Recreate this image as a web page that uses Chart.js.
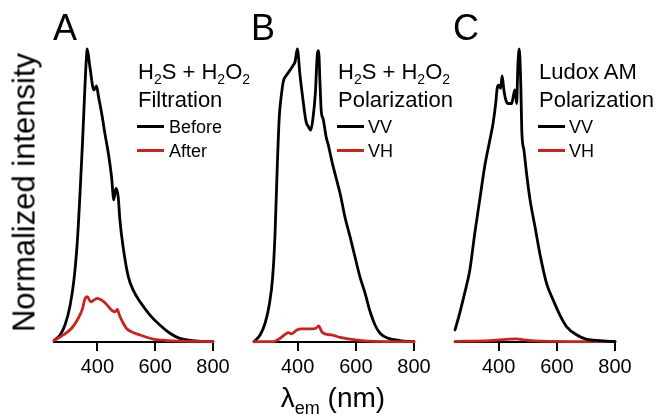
<!DOCTYPE html>
<html><head><meta charset="utf-8">
<script src="https://cdn.jsdelivr.net/npm/chart.js@4"></script>
<style>
html,body{margin:0;padding:0;background:#fff;}
#wrap{position:relative;width:660px;height:420px;overflow:hidden;font-family:"Liberation Sans",Arial,sans-serif;color:#000;}
canvas{position:absolute;top:0;}
.t{position:absolute;white-space:nowrap;}
.head{font-size:22px;line-height:22px;}
.ent{font-size:18px;line-height:18px;}
.sb{font-size:14px;position:relative;top:5px;}
.ln{position:absolute;height:3px;width:27px;}
.letter{font-size:36px;line-height:36px;}
</style></head><body>
<div id="wrap">
<canvas id="cA" width="209" height="382" style="left:29px;width:209px;height:382px"></canvas>
<canvas id="cB" width="210" height="382" style="left:229px;width:210px;height:382px"></canvas>
<canvas id="cC" width="210" height="382" style="left:430px;width:210px;height:382px"></canvas>

<div class="t letter" style="left:53px;top:9.5px">A</div>
<div class="t letter" style="left:251px;top:9.5px">B</div>
<div class="t letter" style="left:453px;top:9.5px">C</div>

<div class="t head" style="left:138px;top:61.4px">H<span class="sb">2</span>S + H<span class="sb">2</span>O<span class="sb">2</span></div>
<div class="t head" style="left:138px;top:89.4px">Filtration</div>
<div class="ln" style="left:137px;top:125.2px;background:#000"></div>
<div class="t ent" style="left:169px;top:118.1px">Before</div>
<div class="ln" style="left:137px;top:148.5px;background:#d0201e"></div>
<div class="t ent" style="left:169px;top:141.5px">After</div>

<div class="t head" style="left:338px;top:61.4px">H<span class="sb">2</span>S + H<span class="sb">2</span>O<span class="sb">2</span></div>
<div class="t head" style="left:338px;top:89.4px">Polarization</div>
<div class="ln" style="left:337px;top:125.2px;background:#000"></div>
<div class="t ent" style="left:368px;top:118.1px">VV</div>
<div class="ln" style="left:337px;top:148.5px;background:#d0201e"></div>
<div class="t ent" style="left:368px;top:141.5px">VH</div>

<div class="t head" style="left:539px;top:61.4px">Ludox AM</div>
<div class="t head" style="left:539px;top:89.4px">Polarization</div>
<div class="ln" style="left:538px;top:125.2px;background:#000"></div>
<div class="t ent" style="left:569px;top:118.1px">VV</div>
<div class="ln" style="left:538px;top:148.5px;background:#d0201e"></div>
<div class="t ent" style="left:569px;top:141.5px">VH</div>

<div class="t" style="left:-125.7px;top:177px;width:300px;height:31px;line-height:31px;font-size:31px;text-align:center;transform:rotate(-90deg)">Normalized intensity</div>
<div class="t" style="left:233px;top:384.3px;width:200px;font-size:28px;line-height:28px;text-align:center">λ<span style="font-size:18px;position:relative;top:7px">em</span> (nm)</div>
</div>
<script>
// x tick labels (nm)
const tickValues = [400, 600, 800];

// Panel A: H2S + H2O2, filtration
const wlABefore = [250,271,288,305,319,331,340,349,356,361,365,374,388,397,404,415,426,438,449,457,464,472,478,489,507,524,547,582,616,651,685,731,800];
const intABefore = [0.005,0.024,0.058,0.121,0.212,0.348,0.507,0.689,0.849,0.951,1.0,0.94,0.86,0.874,0.837,0.78,0.712,0.644,0.564,0.485,0.524,0.496,0.416,0.325,0.223,0.177,0.138,0.092,0.058,0.030,0.0125,0.005,0.001];
const wlAAfter = [250,282,311,334,349,356,365,377,388,400,409,423,434,449,461,469,476,487,501,518,547,593,639,800];
const intAAfter = [0.005,0.024,0.047,0.081,0.115,0.144,0.155,0.137,0.143,0.149,0.146,0.137,0.126,0.109,0.103,0.111,0.092,0.069,0.046,0.035,0.024,0.010,0.005,0.001];

// Panel B: H2S + H2O2, polarization
const wlBVV = [250,271,288,303,314,322,330,337,345,351,362,374,385,391,399,408,417,429,437,445,452,461,468,472,477,481,488,498,506,517,534,546,563,580,597,614,632,649,666,683,712,752,800];
const intBVV = [0.001,0.024,0.064,0.13,0.22,0.36,0.6,0.77,0.85,0.89,0.911,0.928,0.945,0.956,1.0,0.912,0.837,0.752,0.735,0.723,0.758,0.85,0.985,0.994,0.88,0.79,0.76,0.70,0.67,0.62,0.553,0.507,0.425,0.36,0.291,0.223,0.166,0.104,0.058,0.030,0.0125,0.005,0.001];
const wlBVH = [250,316,339,357,368,379,397,414,431,454,465,472,483,500,517,546,592,660,800];
const intBVH = [0.001,0.001,0.012,0.026,0.032,0.028,0.041,0.045,0.045,0.045,0.048,0.055,0.035,0.026,0.024,0.016,0.008,0.002,0.001];

// Panel C: Ludox AM, polarization
const wlCVV = [250,266,283,301,318,335,352,370,381,390,395,400,407,412,418,425,433,445,450,456,462,466,471,476,480,487,496,508,525,542,565,588,611,634,669,703,749,800];
const intCVV = [0.041,0.098,0.166,0.246,0.371,0.485,0.599,0.69,0.747,0.815,0.866,0.877,0.866,0.908,0.86,0.825,0.814,0.814,0.837,0.86,0.814,0.94,1.0,0.882,0.712,0.655,0.575,0.485,0.393,0.30,0.199,0.142,0.091,0.052,0.024,0.009,0.005,0.001];
const wlCVH = [250,370,427,462,485,542,800];
const intCVH = [0.002,0.005,0.009,0.011,0.007,0.003,0.001];

const BLACK = '#000000', RED = '#d0201e';
const FONT = '"Liberation Sans", Arial, sans-serif';

function pts(xs, ys){ return xs.map((x,i)=>({x:x, y:ys[i]})); }

function makeChart(id, series){
  new Chart(document.getElementById(id), {
    type: 'line',
    data: { datasets: series.map(s => ({
      data: pts(s.x, s.y), borderColor: s.c, borderWidth: 2.8,
      borderJoinStyle: 'round', borderCapStyle: 'round',
      pointRadius: 0, cubicInterpolationMode: 'monotone', fill: false, clip: false
    })) },
    options: {
      responsive: false, animation: false, events: [],
      layout: { padding: { left: 25, right: 25, top: 49, bottom: 0 } },
      plugins: { legend: { display: false }, tooltip: { enabled: false } },
      scales: {
        x: {
          type: 'linear', min: 250, max: 800,
          afterBuildTicks: sc => { sc.ticks = tickValues.map(v => ({ value: v })); },
          afterFit: sc => { sc.height = 40; },
          grid: { display: true, drawOnChartArea: false, drawTicks: true, tickLength: 9, color: BLACK, lineWidth: 2 },
          border: { display: true, color: BLACK, width: 2 },
          ticks: { color: BLACK, font: { family: FONT, size: 20 }, padding: 4, maxRotation: 0, autoSkip: false }
        },
        y: { display: false, min: 0, max: 1 }
      }
    }
  });
}

makeChart('cA', [
  { x: wlAAfter, y: intAAfter, c: RED },
  { x: wlABefore, y: intABefore, c: BLACK }
]);
makeChart('cB', [
  { x: wlBVH, y: intBVH, c: RED },
  { x: wlBVV, y: intBVV, c: BLACK }
]);
makeChart('cC', [
  { x: wlCVV, y: intCVV, c: BLACK },
  { x: wlCVH, y: intCVH, c: RED }
]);
</script>
</body></html>
